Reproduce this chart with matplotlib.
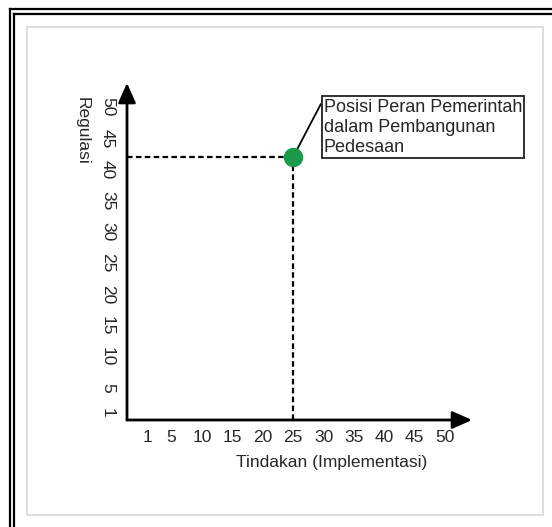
import matplotlib
matplotlib.use("Agg")
import matplotlib.pyplot as plt
from matplotlib.lines import Line2D
from matplotlib.patches import Rectangle

plt.rcParams['font.family'] = ['Liberation Sans', 'DejaVu Sans']

# ---- data ----
x_ticks = [1, 5, 10, 15, 20, 25, 30, 35, 40, 45, 50]
y_ticks = [1, 5, 10, 15, 20, 25, 30, 35, 40, 45, 50]
x_tick_labels = [str(v) for v in x_ticks]
y_tick_labels = [str(v) for v in y_ticks]
point_x = [25]
point_y = [42]
point_label = "Posisi Peran Pemerintah\ndalam Pembangunan\nPedesaan"
x_label = "Tindakan (Implementasi)"
y_label = "Regulasi"

W, H = 552, 527
fig = plt.figure(figsize=(W / 100, H / 100), dpi=100)
fig.patch.set_facecolor('white')
TXT = '#262626'

# decorative frame
def fx(px): return px / W
def fy(py): return 1 - py / H
for xo, yo in [(10, 9), (14, 14)]:
    fig.add_artist(Line2D([fx(xo), fx(xo)], [fy(yo), 0], color='black', lw=1.6))
    fig.add_artist(Line2D([fx(xo), 1], [fy(yo), fy(yo)], color='black', lw=1.6))
fig.add_artist(Rectangle((fx(27), fy(515)), fx(543) - fx(27), fy(27) - fy(515),
                         fill=False, ec='#d8d8d8', lw=1.2))

# axes placed so origin is at (127,420) px and arrow tips at 472 / 83 px
ax = fig.add_axes([fx(127), fy(420), fx(472) - fx(127), fy(83) - fy(420)])
xmin, xmax = -2.35, 54.45
ymin, ymax = -0.13, 53.85
ax.set_xlim(xmin, xmax)
ax.set_ylim(ymin, ymax)
ax.patch.set_alpha(0)
for s in ax.spines.values():
    s.set_visible(False)

arrow = dict(arrowstyle='-|>,head_length=0.85,head_width=0.38', lw=2, color='black',
             mutation_scale=14, shrinkA=0, shrinkB=0)
ax.annotate('', xy=(xmax, ymin), xytext=(xmin, ymin), arrowprops=arrow,
            annotation_clip=False)
ax.annotate('', xy=(xmin, ymax), xytext=(xmin, ymin), arrowprops=arrow,
            annotation_clip=False)

ax.set_xticks(x_ticks)
ax.set_xticklabels(x_tick_labels)
ax.set_yticks(y_ticks)
ax.set_yticklabels(y_tick_labels, rotation=270, va='center', ha='center')
ax.tick_params(axis='both', length=0, labelsize=12.5, colors=TXT)
ax.tick_params(axis='x', pad=7)
ax.tick_params(axis='y', pad=14)

fig.text(fx(427), fy(463), x_label, fontsize=12.5, ha='right', va='center', color=TXT)
fig.text(fx(82), fy(97), y_label, fontsize=12.5, rotation=270, ha='center', va='top',
         color=TXT)

# dashed guide lines
for px_, py_ in zip(point_x, point_y):
    ax.plot([xmin, px_], [py_, py_], color='black', lw=1.6, ls=(0, (2.5, 1.5)),
            clip_on=False)
    ax.plot([px_, px_], [ymin, py_], color='black', lw=1.6, ls=(0, (2.5, 1.5)),
            clip_on=False)

ax.plot(point_x, point_y, 'o', color='#1a9a4a', markersize=13, zorder=5,
        clip_on=False)

ax.annotate(point_label, xy=(point_x[0], point_y[0]), xytext=(22, 42),
            textcoords='offset points', ha='left', va='top', fontsize=13,
            color=TXT, linespacing=1.25,
            bbox=dict(boxstyle='square,pad=0.12', fc='white', ec='#222222', lw=1.3),
            arrowprops=dict(arrowstyle='-', color='black', lw=1.3, relpos=(0, 1),
                            shrinkA=0, shrinkB=0),
            annotation_clip=False)

fig.savefig('out.png', dpi=100)
